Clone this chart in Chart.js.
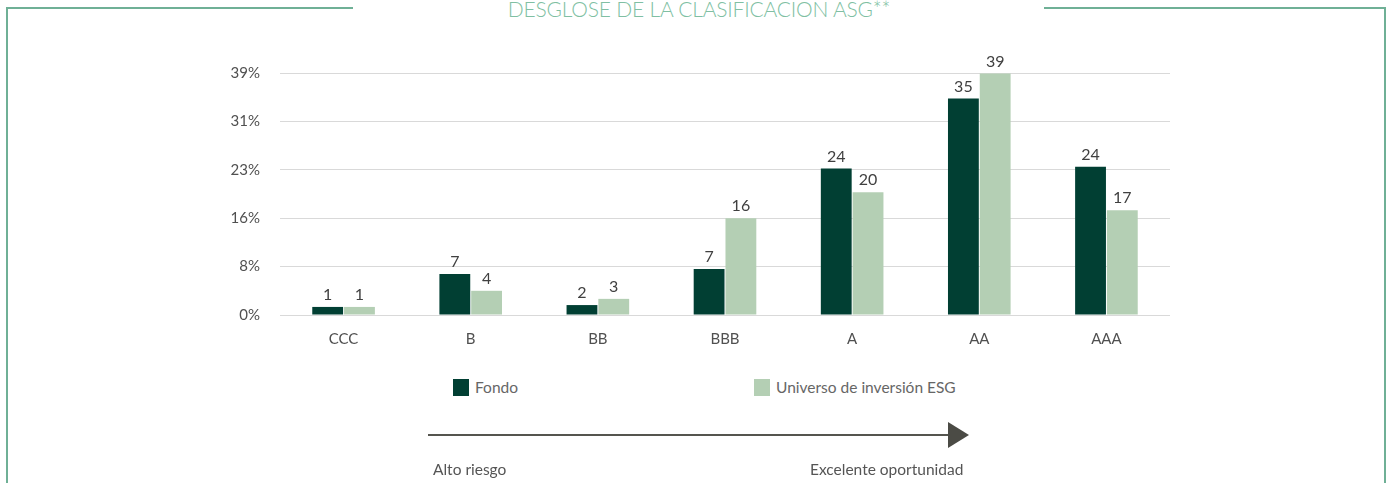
<!DOCTYPE html>
<html>
<head>
<meta charset="utf-8">
<script src="https://cdn.jsdelivr.net/npm/chart.js@4.4.1/dist/chart.umd.min.js"></script>
<style>
  html, body { margin: 0; padding: 0; background: #fff; }
  body { width: 1392px; height: 483px; position: relative; overflow: hidden; font-family: Lato, "Noto Sans", sans-serif; }
  .frame { position: absolute; left: 6px; top: 7px; width: 1380px; height: 500px; border: 2px solid #6fb096; border-top: none; box-sizing: border-box; }
  .topline { position: absolute; top: 7px; height: 2px; background: #6fb096; }
  .title { position: absolute; top: -4px; left: 0; width: 1398px; text-align: center; color: #80bfa3; font-size: 21px; font-weight: 300; letter-spacing: -0.2px; white-space: nowrap; }
  #wrap { position: absolute; left: 0; top: 0; width: 1392px; height: 360px; }
  .legend { position: absolute; top: 378px; font-size: 15.5px; color: #666; display: flex; align-items: center; }
  .legend span.box { display: inline-block; width: 16px; height: 17px; margin-right: 6px; }
  .axisnote { position: absolute; top: 460px; font-size: 15.5px; color: #555; white-space: nowrap; }
</style>
</head>
<body>
<div class="frame"></div>
<div class="topline" style="left:6px; width:347px;"></div>
<div class="topline" style="left:1044px; width:342px;"></div>
<div class="title">DESGLOSE DE LA CLASIFICACIÓN ASG**</div>
<div id="wrap"><canvas id="bars"></canvas></div>
<div id="legend"></div>
<svg style="position:absolute;left:0;top:0" width="1392" height="483">
  <line x1="428" y1="435" x2="952" y2="435" stroke="#55554f" stroke-width="2"/>
  <polygon points="948,422 969,435 948,448" fill="#4b4b45"/>
</svg>
<div class="axisnote" style="left:433px;">Alto riesgo</div>
<div class="axisnote" style="left:810px;">Excelente oportunidad</div>
<script>
const categories = ['CCC', 'B', 'BB', 'BBB', 'A', 'AA', 'AAA'];
const fondo = [1.3, 6.6, 1.6, 7.4, 23.6, 34.9, 23.9];
const universo = [1.3, 3.9, 2.6, 15.6, 19.8, 38.9, 16.9];
const yTickValues = [0, 7.8, 15.6, 23.4, 31.2, 39];
const yTickLabels = ['0%', '8%', '16%', '23%', '31%', '39%'];

const seriesNames = ['Fondo', 'Universo de inversión ESG'];
const seriesColors = ['#013f33', '#b4cfb4'];

// value labels above each bar
const valueLabels = {
    id: 'valueLabels',
    afterDatasetsDraw(chart) {
        const ctx = chart.ctx;
        ctx.save();
        ctx.font = '16px Lato';
        ctx.fillStyle = '#404040';
        ctx.textAlign = 'center';
        ctx.textBaseline = 'bottom';
        chart.data.datasets.forEach((ds, i) => {
            chart.getDatasetMeta(i).data.forEach((bar, j) => {
                ctx.fillText(Math.round(ds.data[j]), bar.x, bar.y - 4);
            });
        });
        ctx.restore();
    },
};

const barConfig = {
    type: 'bar',
    data: {
        labels: categories,
        datasets: [
            {
                label: seriesNames[0],
                backgroundColor: seriesColors[0],
                data: fondo,
            },
            {
                label: seriesNames[1],
                backgroundColor: seriesColors[1],
                data: universo,
            },
        ],
    },
    options: {
        responsive: true,
        maintainAspectRatio: false,
        animation: false,
        categoryPercentage: 0.5,
        barPercentage: 0.97,
        layout: {
            padding: { left: 220, right: 222, top: 73, bottom: 0 },
        },
        plugins: {
            legend: { display: false },
            tooltip: { enabled: false },
        },
        scales: {
            x: {
                grid: { display: false },
                border: { display: false },
                ticks: {
                    color: '#505050',
                    font: { family: 'Lato', size: 15 },
                    padding: 7,
                },
                afterFit(scale) { scale.height = 45; },
            },
            y: {
                min: 0,
                max: 39,
                grid: { color: '#d9d9d9', drawTicks: false },
                border: { display: false },
                afterBuildTicks(axis) {
                    axis.ticks = yTickValues.map(v => ({ value: v }));
                },
                ticks: {
                    color: '#505050',
                    font: { family: 'Lato', size: 15 },
                    padding: 20,
                    callback: (v, i) => yTickLabels[i],
                },
                afterFit(scale) { scale.width = 60; },
            },
        },
    },
    plugins: [valueLabels],
};

const barsCtx = document.getElementById('bars');
window.myBar = new Chart(barsCtx, barConfig);

// legend built from the datasets
const legendPos = [453, 754];
const legendEl = document.getElementById('legend');
barConfig.data.datasets.forEach((ds, i) => {
    const item = document.createElement('div');
    item.className = 'legend';
    item.style.left = legendPos[i] + 'px';
    item.innerHTML = '<span class="box" style="background:' + ds.backgroundColor + '"></span>' + ds.label;
    legendEl.appendChild(item);
});
</script>
</body>
</html>
